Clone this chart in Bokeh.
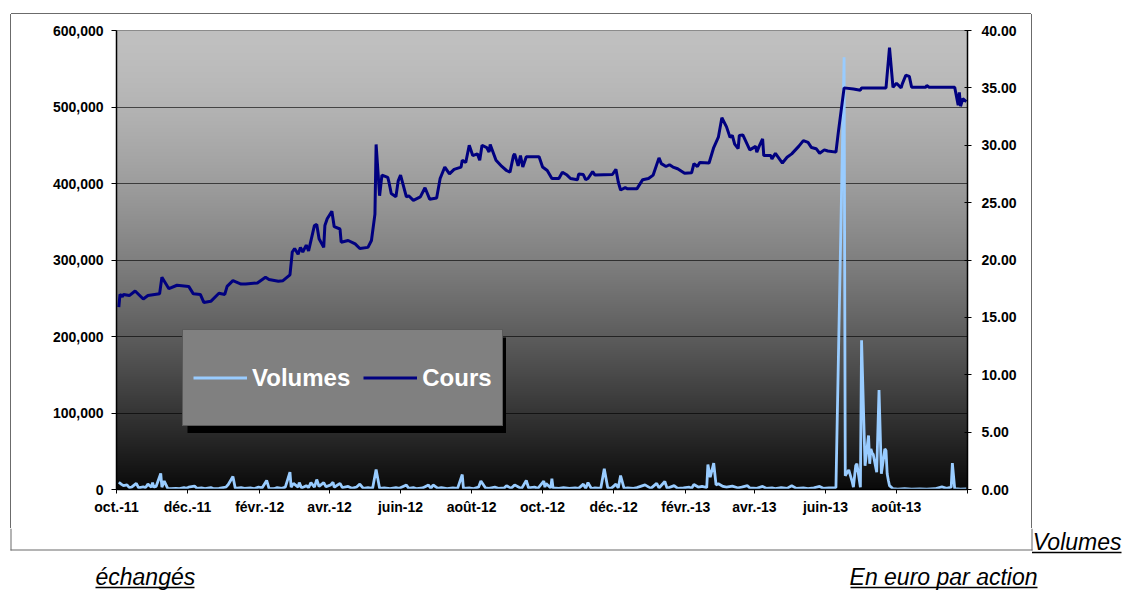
import numpy as np
import pandas as pd
from bokeh.plotting import figure
from bokeh.layouts import column, row
from bokeh.models import (Range1d, LinearAxis, FixedTicker, NumeralTickFormatter, Spacer,
                          Legend, LegendItem, BoxAnnotation, Label, ColumnDataSource)
from bokeh.embed import file_html
from bokeh.resources import INLINE

# ---------------- data ----------------
cours_dates = [
    "2011-10-03", "2011-10-04", "2011-10-06", "2011-10-07", "2011-10-12", "2011-10-17", "2011-10-24",
    "2011-10-28", "2011-11-07", "2011-11-09", "2011-11-15", "2011-11-22", "2011-12-02", "2011-12-06",
    "2011-12-12", "2011-12-15", "2011-12-21", "2011-12-28", "2012-01-02", "2012-01-04", "2012-01-09",
    "2012-01-16", "2012-01-20", "2012-01-30", "2012-02-06", "2012-02-09", "2012-02-17", "2012-02-21",
    "2012-02-27", "2012-02-29", "2012-03-02", "2012-03-05", "2012-03-07", "2012-03-09", "2012-03-12",
    "2012-03-14", "2012-03-19", "2012-03-21", "2012-03-23", "2012-03-27", "2012-03-28", "2012-03-30",
    "2012-04-03", "2012-04-05", "2012-04-10", "2012-04-11", "2012-04-17", "2012-04-23", "2012-04-27",
    "2012-05-04", "2012-05-07", "2012-05-10", "2012-05-11", "2012-05-14", "2012-05-16", "2012-05-21",
    "2012-05-22", "2012-05-24", "2012-05-28", "2012-05-30", "2012-06-01", "2012-06-06", "2012-06-08",
    "2012-06-12", "2012-06-18", "2012-06-22", "2012-06-26", "2012-07-02", "2012-07-05", "2012-07-09",
    "2012-07-13", "2012-07-17", "2012-07-23", "2012-07-24", "2012-07-27", "2012-07-30", "2012-08-02",
    "2012-08-06", "2012-08-08", "2012-08-10", "2012-08-14", "2012-08-16", "2012-08-17", "2012-08-22",
    "2012-08-27", "2012-08-31", "2012-09-03", "2012-09-06", "2012-09-07", "2012-09-10", "2012-09-12",
    "2012-09-14", "2012-09-17", "2012-09-28", "2012-10-01", "2012-10-05", "2012-10-09", "2012-10-15",
    "2012-10-18", "2012-10-22", "2012-10-25", "2012-10-31", "2012-11-01", "2012-11-05", "2012-11-07",
    "2012-11-09", "2012-11-13", "2012-11-15", "2012-11-30", "2012-12-03", "2012-12-05", "2012-12-07",
    "2012-12-11", "2012-12-13", "2012-12-21", "2012-12-26", "2012-12-31", "2013-01-04", "2013-01-09",
    "2013-01-11", "2013-01-15", "2013-01-18", "2013-01-21", "2013-01-25", "2013-01-31", "2013-02-06",
    "2013-02-08", "2013-02-11", "2013-02-13", "2013-02-21", "2013-02-25", "2013-03-01", "2013-03-04",
    "2013-03-08", "2013-03-11", "2013-03-13", "2013-03-15", "2013-03-18", "2013-03-19", "2013-03-22",
    "2013-03-28", "2013-04-02", "2013-04-03", "2013-04-05", "2013-04-08", "2013-04-09", "2013-04-15",
    "2013-04-16", "2013-04-19", "2013-04-25", "2013-04-29", "2013-05-03", "2013-05-09", "2013-05-13",
    "2013-05-17", "2013-05-20", "2013-05-24", "2013-05-27", "2013-05-31", "2013-06-03", "2013-06-10",
    "2013-06-12", "2013-06-17", "2013-06-25", "2013-07-01", "2013-07-02", "2013-07-23", "2013-07-26",
    "2013-07-29", "2013-08-01", "2013-08-05", "2013-08-06", "2013-08-09", "2013-08-12", "2013-08-14",
    "2013-08-26", "2013-08-27", "2013-08-29", "2013-09-20", "2013-09-23", "2013-09-24", "2013-09-25",
    "2013-09-27", "2013-09-30",
]
cours_values = [
    15.9, 17.0, 16.8, 17.0, 16.9, 17.3, 16.6,
    16.9, 17.05, 18.5, 17.5, 17.8, 17.7, 17.05,
    17.0, 16.3, 16.4, 17.1, 17.0, 17.7, 18.2,
    17.9, 17.9, 18.0, 18.5, 18.3, 18.15, 18.2,
    18.7, 20.7, 21.0, 20.5, 21.1, 20.7, 21.3,
    20.8, 23.0, 23.1, 21.85, 21.1, 23.0, 23.6,
    24.25, 22.9, 22.7, 21.55, 21.7, 21.4, 21.0,
    21.1, 21.7, 24.0, 30.07, 25.6, 27.4, 27.2,
    26.8, 25.8, 25.5, 26.9, 27.4, 25.5, 25.6,
    25.2, 25.5, 26.3, 25.3, 25.4, 27.1, 28.1,
    27.5, 27.9, 28.1, 28.7, 28.5, 30.0, 29.1,
    29.25, 28.7, 30.0, 29.8, 29.4, 30.07, 28.7,
    28.15, 27.8, 27.65, 29.1, 29.25, 28.2, 29.1,
    28.1, 29.0, 29.0, 28.1, 27.8, 27.1, 27.1,
    27.65, 27.4, 27.1, 27.0, 27.5, 27.45, 27.0,
    27.1, 27.7, 27.4, 27.45, 27.9, 26.8, 26.1,
    26.3, 26.2, 26.2, 27.0, 27.1, 27.4, 28.9,
    28.4, 28.15, 28.3, 28.1, 27.95, 27.55, 27.6,
    28.4, 28.15, 28.5, 28.45, 29.8, 30.7, 32.4,
    31.6, 30.7, 30.85, 30.1, 29.7, 30.85, 30.9,
    29.6, 29.9, 29.4, 29.9, 30.55, 29.1, 29.1,
    28.8, 29.3, 28.45, 28.95, 29.25, 29.9, 30.4,
    30.25, 29.8, 29.7, 29.3, 29.6, 29.5, 29.4,
    31.1, 35.0, 34.9, 34.8, 35.0, 35.0, 38.5,
    35.05, 35.4, 35.0, 35.35, 36.1, 36.0, 35.05,
    35.05, 35.2, 35.05, 35.05, 33.5, 34.6, 33.4,
    34.05, 33.8,
]

vol_dates = [
    "2011-10-03", "2011-10-05", "2011-10-07", "2011-10-10", "2011-10-12", "2011-10-14", "2011-10-18",
    "2011-10-20", "2011-10-24", "2011-10-26", "2011-10-28", "2011-10-31", "2011-11-01", "2011-11-02",
    "2011-11-04", "2011-11-08", "2011-11-09", "2011-11-11", "2011-11-14", "2011-11-17", "2011-11-21",
    "2011-11-24", "2011-11-28", "2011-11-30", "2011-12-02", "2011-12-07", "2011-12-09", "2011-12-13",
    "2011-12-16", "2011-12-21", "2011-12-23", "2011-12-28",
    "2012-01-03", "2012-01-05", "2012-01-09", "2012-01-11", "2012-01-16", "2012-01-19", "2012-01-24",
    "2012-01-27", "2012-01-31", "2012-02-03", "2012-02-07", "2012-02-09", "2012-02-13", "2012-02-16",
    "2012-02-20", "2012-02-23", "2012-02-27", "2012-02-28", "2012-03-01", "2012-03-05", "2012-03-06",
    "2012-03-08", "2012-03-12", "2012-03-14", "2012-03-16", "2012-03-19", "2012-03-21", "2012-03-23",
    "2012-03-27", "2012-03-29", "2012-04-02", "2012-04-04", "2012-04-05", "2012-04-10", "2012-04-12",
    "2012-04-17", "2012-04-20", "2012-04-24", "2012-04-27", "2012-04-30", "2012-05-04", "2012-05-08",
    "2012-05-11", "2012-05-14", "2012-05-18", "2012-05-23", "2012-05-28", "2012-05-31", "2012-06-06",
    "2012-06-08", "2012-06-12", "2012-06-15", "2012-06-20", "2012-06-25", "2012-06-27", "2012-06-29",
    "2012-07-03", "2012-07-06", "2012-07-11", "2012-07-16", "2012-07-20", "2012-07-24", "2012-07-25",
    "2012-07-30", "2012-08-02", "2012-08-07", "2012-08-09", "2012-08-13", "2012-08-16", "2012-08-21",
    "2012-08-24", "2012-08-29", "2012-08-31", "2012-09-04", "2012-09-07", "2012-09-11", "2012-09-13",
    "2012-09-17", "2012-09-19", "2012-09-24", "2012-09-27", "2012-10-02", "2012-10-03", "2012-10-04",
    "2012-10-08", "2012-10-09", "2012-10-10", "2012-10-15", "2012-10-19", "2012-10-24", "2012-10-29",
    "2012-11-01", "2012-11-05", "2012-11-07", "2012-11-09", "2012-11-12", "2012-11-15", "2012-11-20",
    "2012-11-23", "2012-11-26", "2012-11-29", "2012-12-03", "2012-12-05", "2012-12-07", "2012-12-10",
    "2012-12-13", "2012-12-18", "2012-12-21", "2012-12-28",
    "2013-01-02", "2013-01-07", "2013-01-09", "2013-01-14", "2013-01-16", "2013-01-22", "2013-01-25",
    "2013-01-30", "2013-02-04", "2013-02-06", "2013-02-08", "2013-02-12", "2013-02-15", "2013-02-19",
    "2013-02-20", "2013-02-22", "2013-02-25", "2013-02-27", "2013-03-01", "2013-03-05", "2013-03-08",
    "2013-03-13", "2013-03-18", "2013-03-21", "2013-03-26", "2013-03-28", "2013-04-03", "2013-04-08",
    "2013-04-11", "2013-04-16", "2013-04-19", "2013-04-24", "2013-04-29", "2013-05-03", "2013-05-07",
    "2013-05-13", "2013-05-17", "2013-05-22", "2013-05-27", "2013-05-30", "2013-06-04", "2013-06-10",
    "2013-06-17", "2013-06-18", "2013-06-21", "2013-06-24", "2013-06-25", "2013-06-27", "2013-06-28",
    "2013-07-01", "2013-07-02", "2013-07-03", "2013-07-04", "2013-07-05", "2013-07-08", "2013-07-09",
    "2013-07-10", "2013-07-11", "2013-07-12", "2013-07-15", "2013-07-17", "2013-07-19", "2013-07-22",
    "2013-07-23", "2013-07-24", "2013-07-25", "2013-07-26", "2013-07-29", "2013-08-02", "2013-08-08",
    "2013-08-14", "2013-08-21", "2013-08-27", "2013-09-03", "2013-09-09", "2013-09-13", "2013-09-17",
    "2013-09-18", "2013-09-20", "2013-09-25", "2013-09-30",
]
vol_values = [
    9500, 7000, 5000, 6000, 2500, 3000, 8000,
    2000, 3500, 2500, 7000, 3000, 9000, 3000,
    4000, 21000, 3000, 11000, 1500, 1000, 1500,
    1200, 2500, 1500, 3000, 4500, 1500, 2000,
    1000, 2500, 1200, 1500,
    3000, 6500, 17000, 1500, 2500, 1500, 2000,
    1000, 3000, 2000, 11800, 1500, 1000, 2500,
    1500, 3000, 22600, 3000, 8000, 3000, 9000,
    2000, 5000, 2500, 9000, 3000, 13000, 4000,
    9000, 3500, 6000, 9500, 3000, 8000, 2500,
    4000, 1500, 3000, 7000, 1500, 2500, 1500,
    26000, 1500, 2000, 1000, 2500, 1500, 6000,
    1500, 2500, 1000, 2000, 6000, 1500, 6000,
    1500, 2500, 1000, 2000, 1500, 19600, 1500,
    2000, 1000, 3000, 11000, 2000, 1500, 3000,
    1500, 2000, 5000, 1500, 6000, 2500, 1500,
    11800, 2000, 3000, 1500, 11000, 3000, 8000,
    2000, 14000, 2000, 1500, 2500, 1500, 2000,
    1500, 7000, 1500, 9000, 1000, 2000, 1500,
    27000, 2000, 1500, 7000, 2000, 18300, 1500,
    2000, 1500, 2500, 6000,
    1500, 8000, 2000, 10500, 1500, 5000, 1500,
    2000, 3000, 1500, 6500, 3000, 4000, 2500,
    32700, 16000, 34400, 6000, 7400, 4000, 3000,
    4500, 2000, 3000, 5000, 2000, 1500, 4000,
    1500, 2000, 1000, 2500, 1500, 5000, 1500,
    2000, 1000, 2000, 4000, 1500, 2000, 2500,
    565000, 18000, 25700, 10000, 3000, 31400, 33600,
    3000, 195000, 140000, 85000, 31000, 70600, 33600,
    53000, 48000, 46000, 22600, 130000, 20500, 53000,
    51000, 20500, 12000, 5000, 1000, 500, 1000,
    500, 800, 500, 1000, 3500, 1500, 3000,
    34400, 1000, 500, 800,
]

x_tick_dates = ["2011-10-01", "2011-12-01", "2012-02-01", "2012-04-01", "2012-06-01", "2012-08-01",
                "2012-10-01", "2012-12-01", "2013-02-01", "2013-04-01", "2013-06-01", "2013-08-01",
                "2013-10-01"]
x_tick_labels = ["oct.-11", "déc.-11", "févr.-12", "avr.-12", "juin-12", "août-12",
                 "oct.-12", "déc.-12", "févr.-13", "avr.-13", "juin-13", "août-13", ""]
left_ticks = [0, 100000, 200000, 300000, 400000, 500000, 600000]
right_ticks = [0, 5, 10, 15, 20, 25, 30, 35, 40]
series_names = ["Volumes", "Cours"]
caption_right = "Volumes"
caption_left = "échangés"
caption_mid = "En euro par action"

# ---------------- layout constants (page pixels) ----------------
FONT = "Liberation Sans"
BORDER = "#6b6b6b"
BOX_L, BOX_T, BOX_R, BOX_B = 10, 13, 1031, 549          # outer bordered box (line pixels)
MAIN_X, MAIN_Y, MAIN_W, MAIN_H = 11, 14, 1020, 514      # main canvas inside the box
FRAME_L, FRAME_T, FRAME_W, FRAME_H = 116, 30, 851, 459  # plot area in page pixels
x_start = pd.Timestamp("2011-10-01")
x_end = pd.Timestamp("2013-10-01")
y_max = 600000


def ms(d):
    return float(pd.Timestamp(d).value // 10**6)


x0_ms, x1_ms = ms(x_start), ms(x_end)

p = figure(width=MAIN_W, height=MAIN_H, x_axis_type="datetime", output_backend="svg",
           toolbar_location=None, x_range=Range1d(x_start, x_end), y_range=Range1d(0, y_max),
           min_border_left=FRAME_L - MAIN_X, min_border_top=FRAME_T - MAIN_Y,
           min_border_right=MAIN_X + MAIN_W - FRAME_L - FRAME_W,
           min_border_bottom=MAIN_Y + MAIN_H - FRAME_T - FRAME_H)
# left, right and top edges of the outer box (bottom part is drawn by the caption panel)
p.styles = {"box-shadow": f"-1px 0 0 0 {BORDER}, 1px 0 0 0 {BORDER}, 0 -1px 0 0 {BORDER}"}
p.extra_y_ranges = {"price": Range1d(0, 40)}
p.background_fill_color = "#808080"
p.border_fill_color = "white"
p.outline_line_color = "#7a7a7a"
p.outline_line_width = 1

# gradient background (light gray at top to near black at bottom), one row per pixel
rows = np.arange(FRAME_H)                       # row 0 = bottom of the plot area
from_top = 1.0 - rows / (FRAME_H - 1)
shade = (192 - 182 * from_top ** 1.5).clip(0, 255).astype(np.uint32)
rgba = (np.uint32(255) << 24) | (shade << 16) | (shade << 8) | shade
img = rgba.reshape(FRAME_H, 1).astype(np.uint32)
r_img = p.image_rgba(image=[img], x=x0_ms, y=0, dw=x1_ms - x0_ms, dh=y_max)
r_img.level = "image"

# grid
p.xgrid.visible = False
p.ygrid.ticker = FixedTicker(ticks=left_ticks)
p.ygrid.grid_line_color = "black"
p.ygrid.grid_line_alpha = 0.62
p.ygrid.grid_line_width = 1

# series
vol_src = ColumnDataSource(dict(date=pd.to_datetime(vol_dates), vol=vol_values))
cours_src = ColumnDataSource(dict(date=pd.to_datetime(cours_dates), cours=cours_values))
r_vol = p.line(x="date", y="vol", source=vol_src, line_color="#99CCFF", line_width=2.8)
r_cours = p.line(x="date", y="cours", source=cours_src, y_range_name="price",
                 line_color="#000080", line_width=3)

# axes
xa = p.xaxis[0]
xa.ticker = FixedTicker(ticks=[ms(d) for d in x_tick_dates])
xa.major_label_overrides = {ms(d): lab for d, lab in zip(x_tick_dates, x_tick_labels)}
ya = p.yaxis[0]
ya.ticker = FixedTicker(ticks=left_ticks)
ya.formatter = NumeralTickFormatter(format="0,0")
ra = LinearAxis(y_range_name="price", ticker=FixedTicker(ticks=right_ticks),
                formatter=NumeralTickFormatter(format="0.00"))
p.add_layout(ra, "right")

for ax in (xa, ya, ra):
    ax.axis_line_color = "black"
    ax.axis_line_width = 1.5
    ax.major_tick_line_color = "black"
    ax.major_tick_line_width = 1
    ax.minor_tick_line_color = None
    ax.major_label_text_font = FONT
    ax.major_label_text_font_style = "bold"
    ax.major_label_text_font_size = "14px"
    ax.major_label_text_color = "black"
xa.major_tick_in, xa.major_tick_out, xa.major_label_standoff = 0, 4, 5
ya.major_tick_in, ya.major_tick_out, ya.major_label_standoff = 0, 5, 8
ra.major_tick_in, ra.major_tick_out, ra.major_label_standoff = 3, 4, 10


def px_x(px):   # page-pixel x -> data x (ms)
    return x0_ms + (px - FRAME_L) / FRAME_W * (x1_ms - x0_ms)


def px_y(py):   # page-pixel y -> data y (volume units)
    return (FRAME_T + FRAME_H - py) / FRAME_H * y_max


# legend shadow, then legend
p.add_layout(BoxAnnotation(left=px_x(187), right=px_x(505.5), top=px_y(337), bottom=px_y(432.5),
                           fill_color="black", fill_alpha=1, line_color=None, level="annotation"))
legend = Legend(items=[LegendItem(label=series_names[0], renderers=[r_vol]),
                       LegendItem(label=series_names[1], renderers=[r_cours])],
                location=(182 - FRAME_L, FRAME_T + FRAME_H - 426), orientation="horizontal",
                background_fill_color="#808080", background_fill_alpha=1,
                border_line_color="#333333", border_line_width=1,
                label_text_color="white", label_text_font=FONT, label_text_font_style="bold",
                label_text_font_size="24px", glyph_width=54, glyph_height=75, label_height=75,
                label_standoff=5, spacing=13, padding=10, margin=0)
p.add_layout(legend, "center")

# ---------------- caption panel below the main canvas (pixel coordinates, y downward) ----------------
CAP_Y = MAIN_Y + MAIN_H
CAP_W, CAP_H = 1123, 590 - CAP_Y
cap = figure(width=CAP_W, height=CAP_H, output_backend="svg", toolbar_location=None,
             x_range=Range1d(0, CAP_W), y_range=Range1d(CAP_H, 0), min_border=0,
             x_axis_location=None, y_axis_location=None)
cap.outline_line_color = None
cap.background_fill_color = "white"
cap.border_fill_color = "white"
cap.xgrid.visible = False
cap.ygrid.visible = False


def box(f, left, right, top, bottom, color):
    f.add_layout(BoxAnnotation(left=left, right=right, top=top, bottom=bottom,
                               fill_color=color, fill_alpha=1, line_color=None))


# rest of the outer box
box(cap, BOX_L, BOX_L + 1, 0, BOX_B + 1 - CAP_Y, BORDER)
box(cap, BOX_R, BOX_R + 1, 0, BOX_B + 1 - CAP_Y, BORDER)
box(cap, BOX_L, BOX_R + 1, BOX_B - CAP_Y, BOX_B + 1 - CAP_Y, BORDER)


def add_caption(text, x, baseline, align, width):
    yb = baseline - CAP_Y
    cap.add_layout(Label(x=x, y=yb - 8, text=text, text_align=align, text_baseline="middle",
                         text_font=FONT, text_font_style="italic", text_font_size="23px",
                         text_color="black"))
    left = x - width if align == "right" else x
    box(cap, left, left + width, yb + 2.2, yb + 3.8, "black")


add_caption(caption_right, 1121, 549, "right", 89.5)
add_caption(caption_left, 95, 584, "left", 99)
add_caption(caption_mid, 1037, 584, "right", 187)

top_row = row(Spacer(width=MAIN_X, height=MAIN_H), p)
layout = column(Spacer(width=CAP_W, height=MAIN_Y), top_row, cap)

open("out.html", "w").write(file_html(layout, INLINE))
